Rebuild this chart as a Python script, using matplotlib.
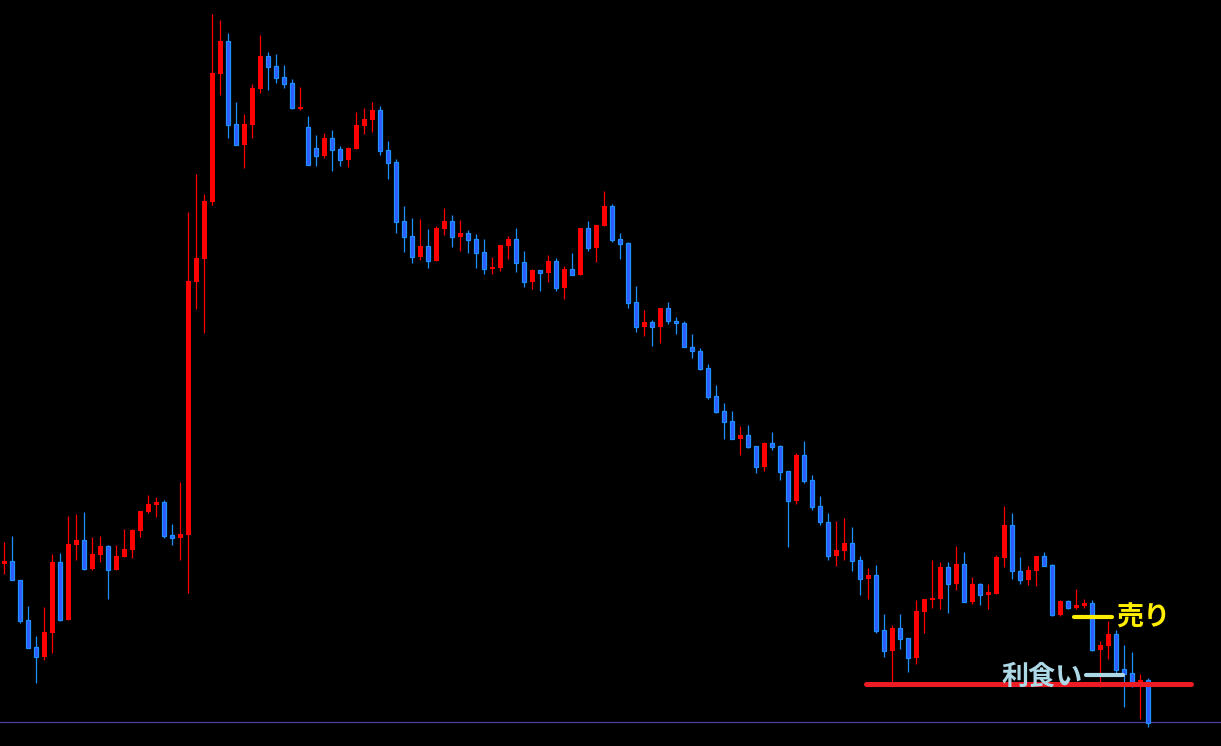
import matplotlib.pyplot as plt
import numpy as np

# candle values (screen-style price scale, smaller = higher)
OPEN = [
    564, 561, 580, 620, 647, 657, 633, 562, 620, 545, 540, 569, 555, 546, 570, 557,
    550, 531, 512, 505, 502, 535, 538, 535, 282, 259, 202, 74, 41, 124, 145, 125,
    89, 56, 66, 77, 83, 108, 127, 148, 156, 138, 149, 160, 149, 126, 120, 110,
    150, 162, 221, 236, 257, 246, 261, 229, 221, 237, 233, 239, 252, 269, 268, 246,
    239, 262, 282, 270, 273, 261, 288, 269, 275, 228, 248, 226, 206, 239, 243, 302,
    327, 322, 327, 308, 321, 323, 347, 351, 368, 396, 411, 421, 439, 435, 446, 467,
    443, 446, 471, 501, 455, 480, 506, 522, 556, 551, 543, 560, 579, 575, 630, 651,
    628, 638, 658, 612, 600, 599, 567, 584, 564, 602, 584, 595, 594, 558, 525, 571,
    580, 571, 556, 565, 615, 601, 608, 606, 603, 650, 646, 634, 669, 673, 682, 680,
]
HIGH = [
    542, 536, 580, 606, 636, 607, 554, 553, 516, 514, 512, 537, 536, 545, 545, 529,
    529, 511, 495, 497, 500, 524, 482, 212, 174, 194, 14, 20, 33, 102, 114, 84,
    35, 52, 54, 65, 79, 87, 116, 135, 133, 130, 146, 147, 112, 108, 102, 106,
    141, 159, 206, 218, 219, 229, 226, 208, 215, 220, 230, 234, 239, 257, 245, 236,
    228, 251, 269, 270, 255, 258, 266, 253, 228, 221, 225, 191, 204, 233, 242, 286,
    310, 320, 308, 302, 317, 321, 334, 348, 364, 385, 403, 411, 426, 425, 446, 442,
    432, 445, 471, 453, 441, 475, 496, 513, 521, 518, 527, 556, 568, 565, 614, 625,
    614, 638, 600, 599, 560, 562, 562, 546, 552, 577, 583, 584, 555, 506, 513, 557,
    566, 556, 552, 564, 600, 600, 589, 599, 600, 641, 621, 630, 645, 652, 674, 678,
]
LOW = [
    574, 580, 623, 648, 683, 660, 653, 621, 620, 560, 570, 570, 562, 599, 570, 557,
    558, 537, 513, 517, 538, 545, 560, 593, 309, 333, 205, 95, 138, 145, 168, 138,
    93, 90, 83, 88, 109, 110, 165, 166, 158, 171, 166, 167, 149, 134, 132, 155,
    179, 233, 252, 263, 260, 268, 261, 235, 247, 251, 253, 268, 274, 274, 271, 259,
    272, 287, 289, 291, 282, 291, 299, 275, 275, 251, 262, 226, 242, 259, 308, 332,
    336, 346, 343, 324, 334, 347, 358, 370, 399, 413, 439, 439, 455, 448, 473, 471,
    450, 480, 547, 504, 483, 510, 525, 560, 566, 560, 571, 595, 599, 633, 657, 683,
    649, 672, 664, 633, 608, 609, 613, 590, 602, 604, 605, 609, 594, 567, 579, 584,
    585, 586, 566, 616, 616, 609, 609, 608, 651, 687, 659, 674, 707, 687, 719, 727,
]
CLOSE = [
    561, 580, 621, 648, 657, 632, 562, 620, 544, 540, 569, 554, 546, 570, 556, 549,
    530, 511, 504, 502, 536, 538, 534, 281, 258, 201, 73, 41, 125, 145, 124, 88,
    56, 67, 78, 84, 108, 107, 165, 156, 138, 150, 160, 148, 125, 119, 110, 151,
    163, 222, 237, 257, 246, 261, 228, 221, 237, 233, 240, 253, 269, 267, 245, 239,
    263, 282, 270, 273, 261, 288, 269, 275, 228, 248, 225, 206, 240, 244, 303, 327,
    322, 327, 308, 321, 323, 347, 351, 369, 397, 412, 422, 439, 435, 447, 467, 443,
    447, 472, 501, 455, 481, 507, 522, 556, 550, 543, 561, 579, 575, 631, 651, 628,
    639, 658, 611, 599, 598, 567, 584, 564, 602, 584, 595, 592, 557, 525, 571, 580,
    570, 556, 566, 615, 601, 608, 605, 603, 650, 645, 634, 670, 674, 682, 680, 723,
]

TAKE_PROFIT = 684
SELL_LEVEL = 617
PROFIT_MARK = 675
BASE_LINE = 722

UP_COLOR = "#FF0000"
DOWN_FILL = "#2F5BFF"
DOWN_EDGE = "#1E90FF"


def main():
    fig = plt.figure(figsize=(12.21, 7.46), dpi=100, facecolor="black")
    ax = fig.add_axes([0, 0, 1, 1])
    ax.set_facecolor("black")

    o = np.array(OPEN, dtype=float)
    h = np.array(HIGH, dtype=float)
    lo = np.array(LOW, dtype=float)
    c = np.array(CLOSE, dtype=float)
    x = np.arange(len(o))

    up = c <= o  # scale is top-down, so a smaller close means price rose
    body_bottom = np.minimum(o, c)
    body_height = np.maximum(np.abs(o - c), 1.5)

    ax.vlines(x[up], h[up], lo[up], color=UP_COLOR, linewidth=0.9, zorder=2)
    ax.vlines(x[~up], h[~up], lo[~up], color=DOWN_EDGE, linewidth=0.9, zorder=2)

    ax.bar(x[up], body_height[up], bottom=body_bottom[up], width=0.62,
           color=UP_COLOR, linewidth=0, zorder=3)
    ax.bar(x[~up], body_height[~up], bottom=body_bottom[~up], width=0.52,
           color=DOWN_FILL, edgecolor=DOWN_EDGE, linewidth=0.9, zorder=3)

    ax.axhline(BASE_LINE, color="#4B3FA0", linewidth=0.9, zorder=1)

    ax.plot([107.7, 148.3], [TAKE_PROFIT, TAKE_PROFIT], color="#ED1C24",
            linewidth=3.6, solid_capstyle="round", zorder=4)

    ax.plot([133.7, 138.5], [SELL_LEVEL, SELL_LEVEL], color="#FFEE00",
            linewidth=3.0, solid_capstyle="round", zorder=5)
    ax.text(139.0, SELL_LEVEL + 1, "売り", color="#FFEE00", fontsize=19.5,
            fontweight="bold", family=["Noto Sans CJK JP", "DejaVu Sans"],
            ha="left", va="center", zorder=6)

    ax.plot([135.2, 139.8], [PROFIT_MARK, PROFIT_MARK], color="#ADD8E6",
            linewidth=3.0, solid_capstyle="round", zorder=5)
    ax.text(124.6, PROFIT_MARK + 2, "利食い", color="#ADD8E6", fontsize=19.5,
            fontweight="bold", family=["Noto Sans CJK JP", "DejaVu Sans"],
            ha="left", va="center", zorder=6)

    ax.set_xlim(-0.5375, 152.0875)
    ax.set_ylim(746, 0)
    ax.axis("off")

    fig.savefig("out.png", dpi=100, facecolor="black")
    plt.close(fig)


if __name__ == "__main__":
    main()
